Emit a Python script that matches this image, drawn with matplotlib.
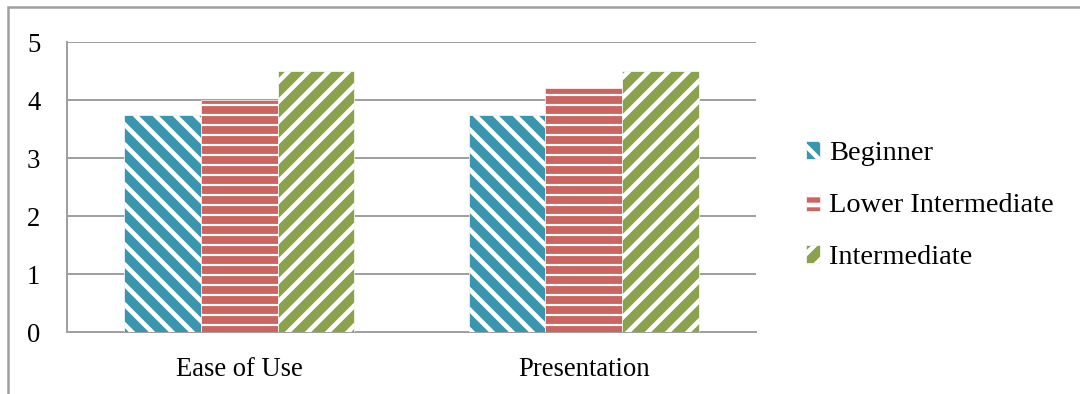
import matplotlib.pyplot as plt
from matplotlib.patches import Rectangle
import numpy as np

categories = ["Ease of Use", "Presentation"]
levels = ["Beginner", "Lower Intermediate", "Intermediate"]
beginner = [3.75, 3.75]
lower_intermediate = [4.0, 4.2]
intermediate = [4.5, 4.5]
y_ticks = [0, 1, 2, 3, 4, 5]

plt.rcParams['font.family'] = ['Liberation Serif', 'DejaVu Serif']
plt.rcParams['font.size'] = 16

# dpi 120 -> hatch tile is 120 px, "//" gives a 20 px stripe period
fig = plt.figure(figsize=(9, 394 / 120), dpi=120)
ax = fig.add_axes([67 / 1080, 62 / 394, 689 / 1080, 290 / 394])

grid_col = "#a0a0a0"
x = np.arange(len(categories))
w = 0.223
series = [beginner, lower_intermediate, intermediate]
colors = ["#3a95ae", "#cc6560", "#8aa24c"]
hatches = ["\\\\", "--", "//"]
hatch_lw = [2.8, 1.3, 2.8]

for i, vals in enumerate(series):
    plt.rcParams['hatch.linewidth'] = hatch_lw[i]
    bars = ax.bar(x + (i - 1) * w, vals, w, color=colors[i], edgecolor="white",
                  hatch=hatches[i], linewidth=0.4, label=levels[i], zorder=3)
    for b in bars:
        if hasattr(b, "set_hatch_linewidth"):
            b.set_hatch_linewidth(hatch_lw[i])

ax.set_xlim(-0.5, 1.5)
ax.set_ylim(0, 5)
ax.set_yticks(y_ticks)
ax.set_xticks(x)
ax.set_xticklabels(categories)
ax.tick_params(axis="both", length=0)
ax.tick_params(axis="y", pad=16)
ax.tick_params(axis="x", pad=15)
ax.yaxis.grid(True, color=grid_col, linewidth=1.2, zorder=0)
ax.set_axisbelow(True)
for s in ["top", "right"]:
    ax.spines[s].set_visible(False)
for s in ["left", "bottom"]:
    ax.spines[s].set_color(grid_col)
    ax.spines[s].set_linewidth(1.2)

fig.legend(loc="center left", bbox_to_anchor=(806 / 1080, 1 - 205.5 / 394),
           frameon=False, borderpad=0, borderaxespad=0, handlelength=0.5,
           handleheight=0.6, handletextpad=0.3, labelspacing=0.95,
           fontsize=17)

# outer chart border (only top and left edges fall inside the picture)
fig.patches.append(Rectangle((8 / 1080, -0.2), 1.2, 1.2 - 7 / 394,
                             transform=fig.transFigure, fill=False,
                             edgecolor=grid_col, linewidth=1.5))

fig.savefig("out.png", dpi=120)
